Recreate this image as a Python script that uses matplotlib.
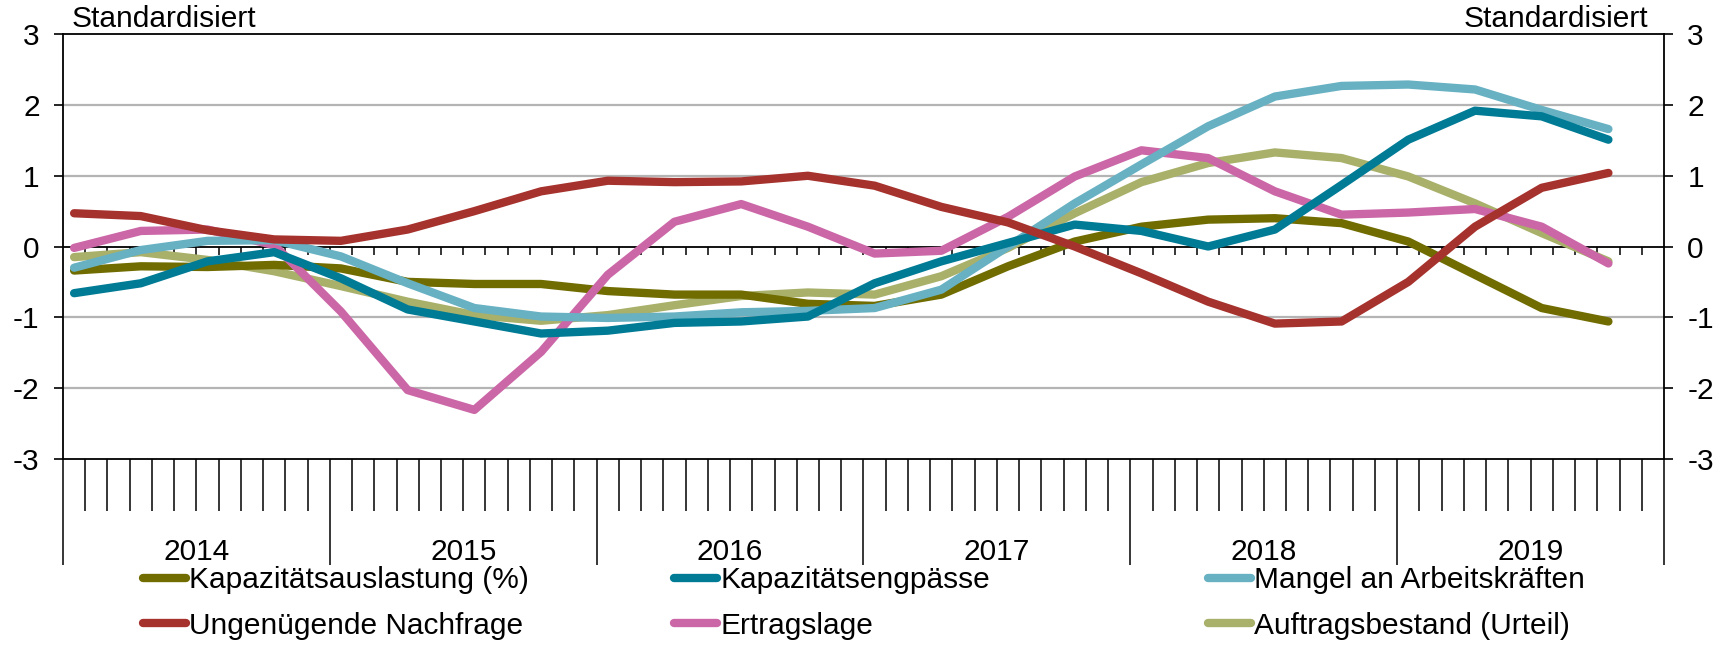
import matplotlib
matplotlib.use("Agg")
import matplotlib.pyplot as plt
import matplotlib.transforms as mtransforms
from matplotlib.lines import Line2D
import numpy as np

plt.rcParams["font.family"] = ["Liberation Sans", "DejaVu Sans"]

# Quartalswerte 2014Q1 - 2019Q4 (standardisiert)
years = [2014, 2015, 2016, 2017, 2018, 2019]
quarters = [(y, q) for y in years for q in range(1, 5)]

kapazitaetsauslastung = [-0.34, -0.28, -0.29, -0.26, -0.31, -0.50, -0.53, -0.53,
                         -0.63, -0.68, -0.68, -0.81, -0.84, -0.68, -0.28, 0.07,
                         0.28, 0.38, 0.40, 0.33, 0.07, -0.40, -0.87, -1.06]
kapazitaetsengpaesse = [-0.66, -0.52, -0.21, -0.08, -0.45, -0.89, -1.06, -1.23,
                        -1.19, -1.08, -1.06, -0.99, -0.52, -0.21, 0.05, 0.31,
                        0.22, 0.00, 0.24, 0.87, 1.51, 1.92, 1.84, 1.51]
mangel_arbeitskraefte = [-0.30, -0.05, 0.08, 0.09, -0.14, -0.52, -0.87, -0.99,
                         -1.01, -0.99, -0.93, -0.91, -0.87, -0.61, 0.00, 0.61,
                         1.16, 1.70, 2.12, 2.27, 2.29, 2.22, 1.93, 1.66]
ungenuegende_nachfrage = [0.47, 0.43, 0.23, 0.10, 0.08, 0.24, 0.50, 0.78,
                          0.93, 0.91, 0.92, 1.00, 0.86, 0.56, 0.34, 0.00,
                          -0.38, -0.78, -1.09, -1.06, -0.50, 0.28, 0.83, 1.04]
ertragslage = [-0.02, 0.22, 0.24, 0.02, -0.92, -2.03, -2.31, -1.49,
               -0.40, 0.35, 0.60, 0.28, -0.10, -0.06, 0.42, 0.99,
               1.36, 1.25, 0.78, 0.45, 0.48, 0.53, 0.28, -0.24]
auftragsbestand = [-0.15, -0.08, -0.19, -0.35, -0.56, -0.78, -0.97, -1.05,
                   -0.97, -0.83, -0.70, -0.65, -0.68, -0.42, -0.02, 0.47,
                   0.91, 1.18, 1.33, 1.25, 0.99, 0.61, 0.19, -0.21]

labels = ["Kapazitätsauslastung (%)", "Kapazitätsengpässe", "Mangel an Arbeitskräften",
          "Ungenügende Nachfrage", "Ertragslage", "Auftragsbestand (Urteil)"]
colors = ["#706c00", "#007b95", "#67b1c3", "#a6322e", "#cb67a7", "#a9b06a"]
series = [kapazitaetsauslastung, kapazitaetsengpaesse, mangel_arbeitskraefte,
          ungenuegende_nachfrage, ertragslage, auftragsbestand]
zorders = [4, 7, 6, 8, 5, 3]

# x in Monaten ab Jan 2014, Wert in der Mitte des ersten Quartalsmonats
x = np.array([(y - 2014) * 12 + (q - 1) * 3 + 0.5 for y, q in quarters])

W, H = 1733, 645
fig = plt.figure(figsize=(W / 100, H / 100), dpi=100)
left, right, top, bottom = 63, 1664, 34.3, 458.7
ax = fig.add_axes([left / W, 1 - bottom / H, (right - left) / W, (bottom - top) / H])

lw = 6.0
for s, c, lab, z in zip(series, colors, labels, zorders):
    ax.plot(x, s, color=c, lw=lw, solid_capstyle="round", solid_joinstyle="round",
            zorder=z, label=lab)

ax.set_xlim(0, 72)
ax.set_ylim(-3, 3)

# Gitter und Nulllinie
for yv in [-2, -1, 1, 2]:
    ax.axhline(yv, color="#b4b4b4", lw=1.6, zorder=1)
ax.axhline(0, color="black", lw=1.3, zorder=2)
months = np.arange(1, 72)
ax.vlines(months, -0.12, 0, color="black", lw=1.1, zorder=2)

for sp in ax.spines.values():
    sp.set_color("black")
    sp.set_linewidth(1.3)

fs = 21.5
ax.set_yticks([-3, -2, -1, 0, 1, 2, 3])
ax.set_yticklabels(["-3", "-2", "-1", "0", "1", "2", "3"])
ax.tick_params(axis="y", which="both", direction="out", length=6.8, width=1.2,
               labelsize=fs, left=True, right=True, labelleft=True, labelright=True,
               pad=10)

# x-Achse: Monatsstriche, Jahresgrenzen
ax.set_xticks(np.arange(0, 73, 12))
ax.set_xticks(np.arange(0, 73, 1), minor=True)
ax.tick_params(axis="x", which="major", length=76, width=1.1, labelbottom=False)
ax.tick_params(axis="x", which="minor", length=37.5, width=1.1)

trans = mtransforms.blended_transform_factory(ax.transData, ax.transAxes)
for i, yr in enumerate(years):
    ax.text(i * 12 + 6, -0.22, str(yr), transform=trans, ha="center", va="center",
            fontsize=fs)

fig.text(72 / W, 1 - 33 / H, "Standardisiert", fontsize=fs, ha="left", va="bottom")
fig.text(1648 / W, 1 - 33 / H, "Standardisiert", fontsize=fs, ha="right", va="bottom")

# Legende in drei Spalten
handles = [Line2D([], [], color=c, lw=lw, solid_capstyle="round") for c in colors]
col_x = [143, 674, 1208]
for j, cx in enumerate(col_x):
    idx = [j, j + 3]
    leg = fig.legend([handles[i] for i in idx], [labels[i] for i in idx],
                     loc="upper left", bbox_to_anchor=(cx / W, 1 - 566 / H),
                     frameon=False, fontsize=fs, handlelength=1.45,
                     handletextpad=0.1, borderpad=0, borderaxespad=0,
                     labelspacing=0.6)

fig.savefig("out.png", dpi=100)
